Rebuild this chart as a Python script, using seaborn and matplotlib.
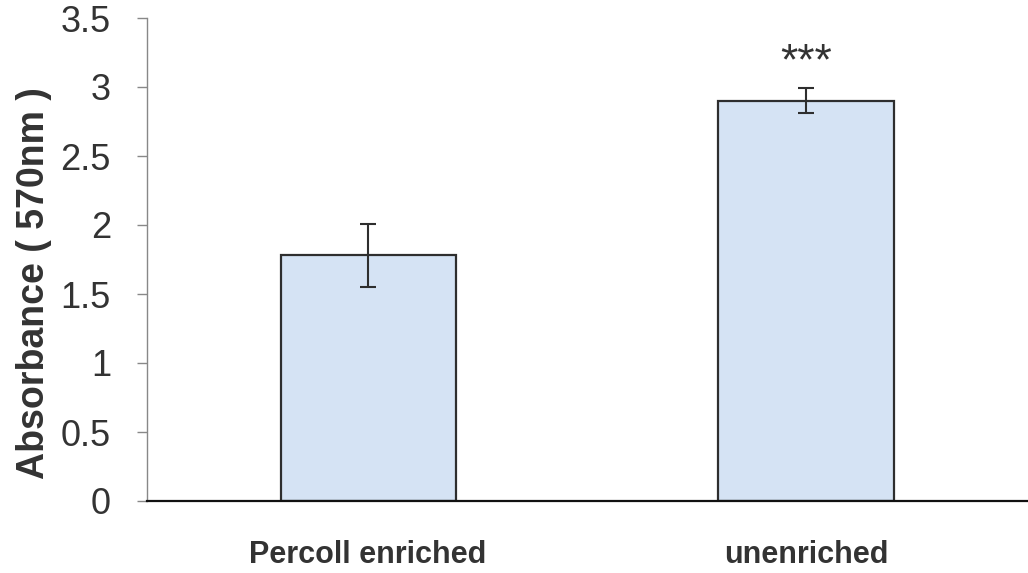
import matplotlib
matplotlib.use("Agg")
import matplotlib.pyplot as plt
import seaborn as sns
import pandas as pd

categories = ["Percoll enriched", "unenriched"]
values = [1.78, 2.90]
errors = [0.23, 0.09]
yticks = [0, 0.5, 1, 1.5, 2, 2.5, 3, 3.5]
ytick_labels = ["0", "0.5", "1", "1.5", "2", "2.5", "3", "3.5"]
significance = ["", "***"]

sns.set_style("white")
plt.rcParams['font.family'] = ['Liberation Sans', 'DejaVu Sans']

df = pd.DataFrame({"group": categories, "absorbance": values})

fig = plt.figure(figsize=(10.28, 5.73), dpi=100)
ax = fig.add_axes([147/1028, 1 - 501/573, 1 - 147/1028, (501 - 18)/573])

sns.barplot(data=df, x="group", y="absorbance", order=categories,
            color="#d5e3f4", saturation=1, width=0.4, errorbar=None,
            edgecolor="#2e2e2e", linewidth=1.6, ax=ax)
ax.errorbar(range(len(categories)), values, yerr=errors, fmt="none",
            ecolor="#2e2e2e", elinewidth=1.5, capsize=5.5, capthick=1.5)

for i, s in enumerate(significance):
    if s:
        ax.text(i, values[i] + errors[i] + 0.035, s, ha="center", va="bottom",
                fontsize=32, color="#333333")

ax.set_ylim(0, 3.5)
ax.set_xlim(-0.505, 1.507)
ax.set_yticks(yticks)
ax.set_yticklabels(ytick_labels)
ax.set_xlabel("")
ax.set_ylabel("Absorbance ( 570nm )", fontsize=27, fontweight="bold",
              color="#333333")
ax.yaxis.set_label_coords(-0.108, 0.451)

for sp in ["top", "right"]:
    ax.spines[sp].set_visible(False)
ax.spines["left"].set_color("#888888")
ax.spines["left"].set_linewidth(1.0)
ax.spines["bottom"].set_color("#111111")
ax.spines["bottom"].set_linewidth(1.6)

ax.tick_params(axis="y", direction="out", length=7, width=1, color="#888888",
               labelsize=26, labelcolor="#333333", pad=19, left=True)
ax.tick_params(axis="x", length=0, pad=28, labelsize=22, labelcolor="#333333")
for lab in ax.get_xticklabels():
    lab.set_fontweight("bold")

fig.savefig("out.png", dpi=100)
